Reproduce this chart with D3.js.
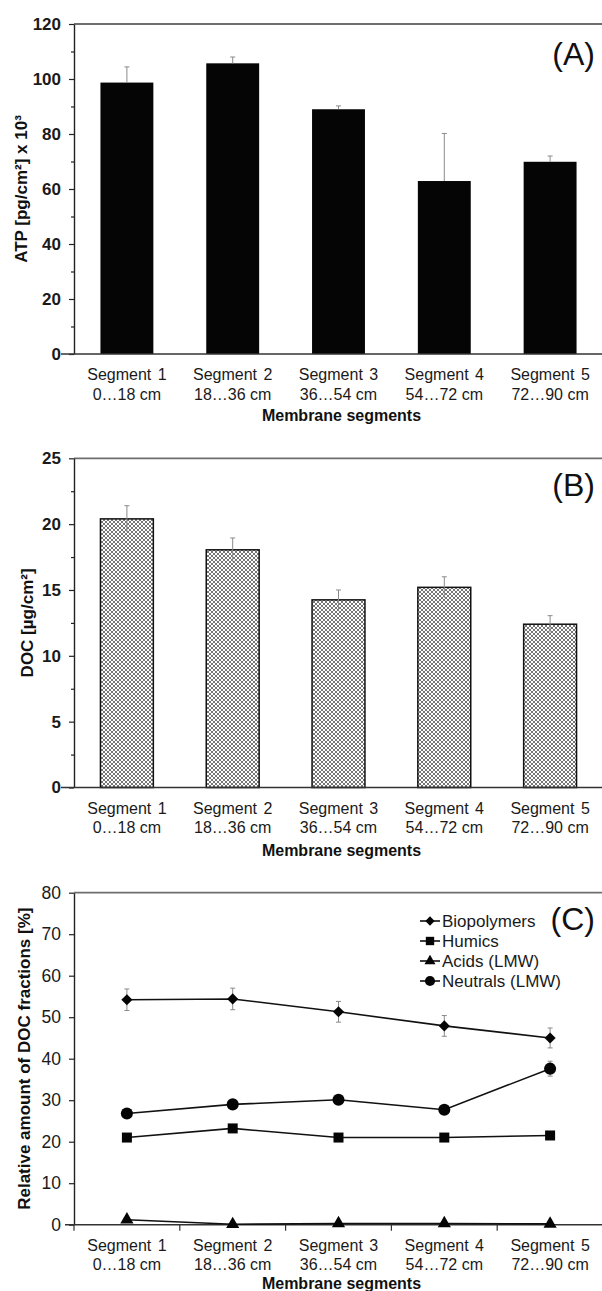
<!DOCTYPE html>
<html>
<head>
<meta charset="utf-8">
<style>
  body { margin: 0; background: #fff; }
  svg text { font-family: "Liberation Sans", Arial, sans-serif !important; }
  .domain { stroke: #222; stroke-width: 1.4; }
  .tick line { stroke: #222; stroke-width: 1.2; }
</style>
<script src="https://d3js.org/d3.v7.min.js"></script>
</head>
<body>
<div class="container"></div>
<script>
// categories
var segNames  = ["Segment 1", "Segment 2", "Segment 3", "Segment 4", "Segment 5"];
var segRanges = ["0\u202618 cm", "18\u202636 cm", "36\u202654 cm", "54\u202672 cm", "72\u202690 cm"];

// panel A - ATP
var atp    = [98.7, 105.7, 89.0, 62.9, 69.9];
var atpErr = [5.7, 2.3, 1.2, 17.3, 2.1];
var atpTicks = [0, 20, 40, 60, 80, 100, 120];

// panel B - DOC
var doc    = [20.4, 18.05, 14.25, 15.2, 12.4];
var docErr = [1.0, 0.9, 0.75, 0.8, 0.65];
var docTicks = [0, 5, 10, 15, 20, 25];

// panel C - DOC fractions
var fracNames = ["Biopolymers", "Humics", "Acids (LMW)", "Neutrals (LMW)"];
var fracSymbols = ["diamond", "square", "triangle", "circle"];
var biopolymers = [54.2, 54.4, 51.3, 47.9, 45.0];
var bioErr      = [2.6, 2.6, 2.5, 2.5, 2.4];
var humics      = [21.0, 23.2, 21.0, 21.0, 21.5];
var humErr      = [0.5, 0.5, 0.4, 0.4, 0.5];
var acids       = [1.2, 0.1, 0.3, 0.3, 0.2];
var acidErr     = [0.2, 0.1, 0.1, 0.1, 0.1];
var neutrals    = [26.8, 29.0, 30.1, 27.7, 37.6];
var neuErr      = [0.8, 0.8, 0.8, 0.8, 1.8];
var fracTicks = [0, 10, 20, 30, 40, 50, 60, 70, 80];

var W = 602, H = 1291;
var axisX = 74, rightX = 603;

var svg = d3.select(".container").append("svg")
  .attr("width", W).attr("height", H);

var defs = svg.append("defs");
var pat = defs.append("pattern")
  .attr("id", "hatch").attr("patternUnits", "userSpaceOnUse")
  .attr("width", 4).attr("height", 4);
pat.append("rect").attr("width", 4).attr("height", 4).attr("fill", "#fff");
pat.append("path").attr("d", "M0,0 L4,4 M4,0 L0,4 M-1,3 L1,5 M3,-1 L5,1 M3,5 L5,3 M-1,1 L1,-1")
  .attr("stroke", "#666").attr("stroke-width", 0.9);

var xBand = d3.scaleBand().domain(segNames).range([axisX, rightX])
  .paddingInner(0.5).paddingOuter(0.25);
var xPoint = d3.scalePoint().domain(segNames).range([axisX, rightX]).padding(0.5);

function frame(top, y, ticks, minor, bold, labelSize) {
  // top border
  svg.append("line").attr("x1", axisX).attr("x2", rightX)
    .attr("y1", top).attr("y2", top)
    .attr("stroke", "#6e6e6e").attr("stroke-width", 1.8);

  if (minor) {
    svg.append("g").attr("transform", "translate(" + axisX + ",0)")
      .call(d3.axisLeft(y).tickValues(minor).tickSize(3).tickFormat(""))
      .call(function(g){ g.select(".domain").remove(); });
  }
  var ga = svg.append("g").attr("transform", "translate(" + axisX + ",0)")
    .call(d3.axisLeft(y).tickValues(ticks).tickSize(5).tickPadding(8).tickSizeOuter(0));
  ga.selectAll("text")
    .attr("font-size", labelSize).attr("font-weight", bold ? "bold" : "normal")
    .attr("fill", "#1a1a1a");
}

function xLabels(base, titleOff) {
  var g = svg.append("g");
  segNames.forEach(function(s, i) {
    var cx = xPoint(s);
    g.append("text").attr("x", cx).attr("y", base + 26)
      .attr("text-anchor", "middle").attr("font-size", 16).attr("fill", "#1a1a1a")
      .attr("word-spacing", 2).text(s);
    g.append("text").attr("x", cx).attr("y", base + 45.5)
      .attr("text-anchor", "middle").attr("font-size", 16).attr("fill", "#1a1a1a")
      .text(segRanges[i]);
  });
  g.append("text").attr("x", (axisX + rightX) / 2 + 3).attr("y", base + titleOff)
    .attr("text-anchor", "middle").attr("font-size", 16).attr("font-weight", "bold")
    .attr("fill", "#111").text("Membrane segments");
}

function yTitle(x, y0, y1, txt) {
  svg.append("text")
    .attr("transform", "translate(" + x + "," + ((y0 + y1) / 2) + ") rotate(-90)")
    .attr("text-anchor", "middle").attr("font-size", 17).attr("font-weight", "bold")
    .attr("fill", "#111").text(txt);
}

function panelLabel(y, txt) {
  svg.append("text").attr("x", 595).attr("y", y).attr("text-anchor", "end")
    .attr("font-size", 32).attr("fill", "#111").text(txt);
}

function errBar(g, x, yTop, yBot, cap) {
  g.append("line").attr("x1", x).attr("x2", x).attr("y1", yTop).attr("y2", yBot)
    .attr("stroke", "#8a8a8a").attr("stroke-width", 1);
  g.append("line").attr("x1", x - cap).attr("x2", x + cap).attr("y1", yTop).attr("y2", yTop)
    .attr("stroke", "#8a8a8a").attr("stroke-width", 1);
}

// ---------- Panel A ----------
var yA = d3.scaleLinear().domain([0, 120]).range([354, 24]);
frame(24, yA, atpTicks, [10, 30, 50, 70, 90, 110], true, 17);
var gA = svg.append("g");
gA.selectAll("rect").data(atp).enter().append("rect")
  .attr("x", function(d, i){ return xBand(segNames[i]); })
  .attr("y", function(d){ return yA(d); })
  .attr("width", xBand.bandwidth())
  .attr("height", function(d){ return yA(0) - yA(d); })
  .attr("fill", "#050505");
atp.forEach(function(d, i){
  errBar(gA, xPoint(segNames[i]), yA(d + atpErr[i]), yA(d), 2.5);
});
svg.append("line").attr("x1", axisX - 13).attr("x2", rightX)
  .attr("y1", yA(0)).attr("y2", yA(0)).attr("stroke", "#333").attr("stroke-width", 1.5);
xLabels(yA(0), 67);
yTitle(27, 24, 354, "ATP [pg/cm\u00b2] x 10\u00b3");
panelLabel(65, "(A)");

// ---------- Panel B ----------
var yB = d3.scaleLinear().domain([0, 25]).range([787.5, 458.3]);
frame(458.3, yB, docTicks, [2.5, 7.5, 12.5, 17.5, 22.5], true, 17);
var gB = svg.append("g");
gB.selectAll("rect").data(doc).enter().append("rect")
  .attr("x", function(d, i){ return xBand(segNames[i]); })
  .attr("y", function(d){ return yB(d); })
  .attr("width", xBand.bandwidth())
  .attr("height", function(d){ return yB(0) - yB(d); })
  .attr("fill", "url(#hatch)").attr("stroke", "#111").attr("stroke-width", 1.5);
doc.forEach(function(d, i){
  errBar(gB, xPoint(segNames[i]), yB(d + docErr[i]), yB(d - docErr[i]), 2.5);
});
svg.append("line").attr("x1", axisX - 13).attr("x2", rightX)
  .attr("y1", yB(0)).attr("y2", yB(0)).attr("stroke", "#333").attr("stroke-width", 1.5);
xLabels(yB(0), 68);
yTitle(33, 458.3, 787.5, "DOC [\u00b5g/cm\u00b2]");
panelLabel(496, "(B)");

// ---------- Panel C ----------
var yC = d3.scaleLinear().domain([0, 80]).range([1224.7, 892.7]);
frame(892.7, yC, fracTicks, null, false, 17.5);
var xEdge = d3.scaleBand().domain(segNames).range([axisX, rightX]);
var gx = svg.append("g").attr("transform", "translate(0," + yC(0) + ")");
gx.append("line").attr("x1", axisX - 9).attr("x2", rightX).attr("stroke", "#333").attr("stroke-width", 1.5);
segNames.forEach(function(s){
  var ex = xEdge(s);
  gx.append("line").attr("x1", ex).attr("x2", ex).attr("y1", 0).attr("y2", 6)
    .attr("stroke", "#333").attr("stroke-width", 1.2);
});
xLabels(yC(0), 64);
yTitle(30, 892.7, 1224.7, "Relative amount of DOC fractions [%]");
panelLabel(930, "(C)");

var series = [biopolymers, humics, acids, neutrals];
var errs = [bioErr, humErr, acidErr, neuErr];
var symMap = {
  diamond: d3.symbolSquare, square: d3.symbolSquare,
  triangle: d3.symbolTriangle, circle: d3.symbolCircle
};
var symSize = { diamond: 62, square: 100, triangle: 75, circle: 115 };
var symRot  = { diamond: 45, square: 0, triangle: 0, circle: 0 };

var gC = svg.append("g");
series.forEach(function(vals, k){
  vals.forEach(function(v, i){
    var x = xPoint(segNames[i]);
    gC.append("line").attr("x1", x).attr("x2", x)
      .attr("y1", yC(v + errs[k][i])).attr("y2", yC(Math.max(0, v - errs[k][i])))
      .attr("stroke", "#8a8a8a").attr("stroke-width", 1);
    [v + errs[k][i], v - errs[k][i]].forEach(function(e){
      if (e < 0) return;
      gC.append("line").attr("x1", x - 2.5).attr("x2", x + 2.5)
        .attr("y1", yC(e)).attr("y2", yC(e)).attr("stroke", "#8a8a8a").attr("stroke-width", 1);
    });
  });
});
var line = d3.line().x(function(d, i){ return xPoint(segNames[i]); }).y(function(d){ return yC(d); });
series.forEach(function(vals, k){
  var s = fracSymbols[k];
  gC.append("path").datum(vals).attr("d", line)
    .attr("fill", "none").attr("stroke", "#111").attr("stroke-width", 1.6);
  var sym = d3.symbol().type(symMap[s]).size(symSize[s]);
  gC.selectAll(".m" + k).data(vals).enter().append("path")
    .attr("class", "m" + k)
    .attr("transform", function(d, i){
      return "translate(" + xPoint(segNames[i]) + "," + yC(d) + ") rotate(" + symRot[s] + ")";
    })
    .attr("d", sym).attr("fill", "#050505");
});

// legend
var lg = svg.append("g").attr("transform", "translate(420,921)");
fracNames.forEach(function(n, k){
  var s = fracSymbols[k];
  var row = lg.append("g").attr("transform", "translate(0," + (k * 20) + ")");
  row.append("line").attr("x1", 0).attr("x2", 20).attr("stroke", "#111").attr("stroke-width", 1.6);
  row.append("path").attr("transform", "translate(10,0) rotate(" + symRot[s] + ")")
    .attr("d", d3.symbol().type(symMap[s]).size(symSize[s] * 0.7))
    .attr("fill", "#050505");
  row.append("text").attr("x", 22).attr("y", 6).attr("font-size", 17).attr("fill", "#1a1a1a").text(n);
});
</script>
</body>
</html>
